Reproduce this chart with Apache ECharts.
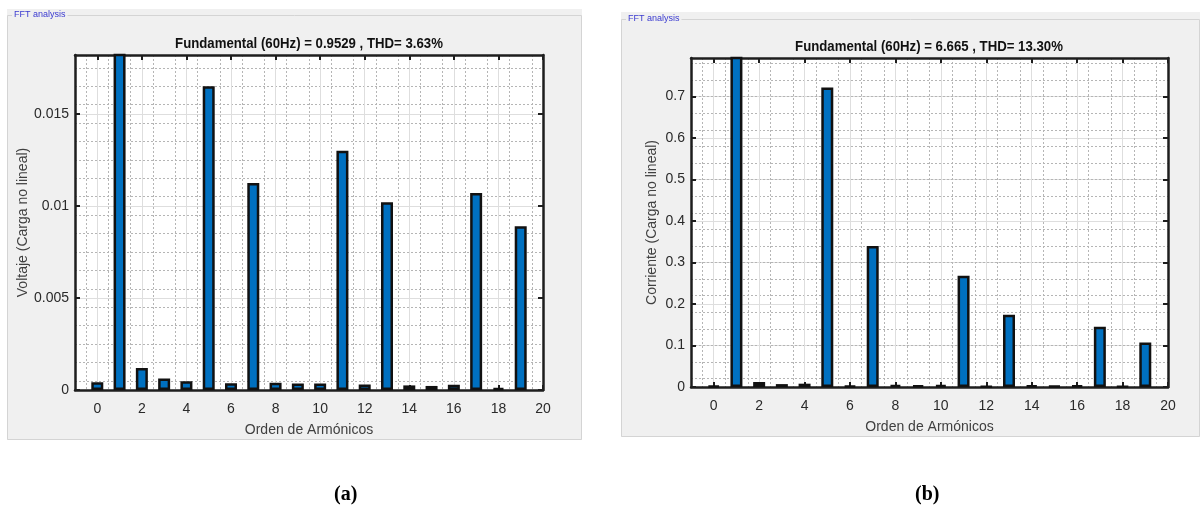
<!DOCTYPE html>
<html>
<head>
<meta charset="utf-8">
<script src="https://cdn.jsdelivr.net/npm/echarts@6/dist/echarts.min.js"></script>
<style>
html,body{margin:0;padding:0;background:#fff;}
#c{width:1202px;height:514px;}
</style>
</head>
<body>
<div id="c"></div>
<script>
// ---- data ----
const harmonics = [0,1,2,3,4,5,6,7,8,9,10,11,12,13,14,15,16,17,18,19];
const voltage = [0.00042,0.9529,0.0012,0.00063,0.00047,0.0165,0.00036,0.01125,0.0004,0.00035,0.00035,0.0130,0.0003,0.0102,0.00025,0.00022,0.00028,0.0107,0.0001,0.0089];
const current = [0.003,6.665,0.012,0.007,0.008,0.722,0.003,0.34,0.005,0.004,0.005,0.268,0.001,0.174,0.004,0.002,0.004,0.145,0.001,0.107];
const xTicks = [0,2,4,6,8,10,12,14,16,18,20];
const yTicksA = [0,0.005,0.01,0.015];
const yTicksB = [0,0.1,0.2,0.3,0.4,0.5,0.6,0.7];
const titleA = 'Fundamental (60Hz) = 0.9529 , THD= 3.63%';
const titleB = 'Fundamental (60Hz) = 6.665 , THD= 13.30%';
const yNameA = 'Voltaje (Carga no lineal)';
const yNameB = 'Corriente (Carga no lineal)';
const xName = 'Orden de Armónicos';

const chart = echarts.init(document.getElementById('c'));
const FONT = 'Liberation Sans, Arial, sans-serif';
const AX = '#1e1e1e';
const fmt = v => String(+(+v).toFixed(4));

function xAxes(gi){
  return [{
    type:'value', gridIndex:gi, position:'bottom', min:-1, max:20, interval:1,
    axisLine:{show:true,onZero:false,lineStyle:{color:AX,width:2.5}},
    axisTick:{show:true,inside:true,length:5,customValues:xTicks,lineStyle:{color:AX,width:2}},
    axisLabel:{customValues:xTicks,color:'#2a2a2a',fontSize:14,fontFamily:FONT,margin:12,formatter:fmt},
    splitLine:{show:true,lineStyle:{color:'#dedede',width:1}},
    minorTick:{show:false,splitNumber:2},
    minorSplitLine:{show:true,lineStyle:{color:'#b5b5b5',width:1,type:[2,2]}},
    name:xName,nameLocation:'middle',nameGap:33,
    nameTextStyle:{color:'#404040',fontSize:14,fontFamily:FONT}
  },{
    type:'value', gridIndex:gi, position:'top', min:-1, max:20, interval:1,
    axisLine:{show:true,onZero:false,lineStyle:{color:AX,width:2.5}},
    axisTick:{show:true,inside:true,length:5,customValues:xTicks,lineStyle:{color:AX,width:2}},
    axisLabel:{show:false}, splitLine:{show:false}
  }];
}
function yAxes(gi,max,interval,ticks,name,gap){
  return [{
    type:'value', gridIndex:gi, position:'left', min:0, max:max, interval:interval,
    axisLine:{show:true,onZero:false,lineStyle:{color:AX,width:2.5}},
    axisTick:{show:true,inside:true,length:5,customValues:ticks,lineStyle:{color:AX,width:2}},
    axisLabel:{customValues:ticks,color:'#2a2a2a',fontSize:14,fontFamily:FONT,margin:6,formatter:fmt},
    splitLine:{show:true,lineStyle:{color:'#dedede',width:1}},
    minorTick:{show:false,splitNumber:2},
    minorSplitLine:{show:true,lineStyle:{color:'#b5b5b5',width:1,type:[2,2]}},
    name:name,nameLocation:'middle',nameGap:gap,nameRotate:90,
    nameTextStyle:{color:'#404040',fontSize:14,fontFamily:FONT}
  },{
    type:'value', gridIndex:gi, position:'right', min:0, max:max, interval:interval,
    axisLine:{show:true,onZero:false,lineStyle:{color:AX,width:2.5}},
    axisTick:{show:true,inside:true,length:5,customValues:ticks,lineStyle:{color:AX,width:2}},
    axisLabel:{show:false}, splitLine:{show:false}
  }];
}

const titleFont = 'bold 15px "Liberation Sans", Arial, sans-serif';
chart.setOption({
  animation:false,
  backgroundColor:'#ffffff',
  graphic:[
    {type:'rect',z:-10,shape:{x:7,y:9,width:575,height:431},style:{fill:'#f0f0f0'}},
    {type:'rect',z:-9,shape:{x:7.5,y:15.5,width:574,height:424},style:{fill:'none',stroke:'#d4d4d4',lineWidth:1}},
    {type:'text',z:-8,left:12,top:10,style:{text:'FFT analysis',fill:'#3a3ad0',font:'9px "Liberation Sans Narrow", Arial, sans-serif',backgroundColor:'#f0f0f0',padding:[0,2]}},
    {type:'rect',z:-10,shape:{x:621,y:12,width:579,height:425},style:{fill:'#f0f0f0'}},
    {type:'rect',z:-9,shape:{x:621.5,y:19.5,width:578,height:417},style:{fill:'none',stroke:'#d4d4d4',lineWidth:1}},
    {type:'text',z:-8,left:626,top:14,style:{text:'FFT analysis',fill:'#3a3ad0',font:'9px "Liberation Sans Narrow", Arial, sans-serif',backgroundColor:'#f0f0f0',padding:[0,2]}},
    {type:'rect',z:-9,shape:{x:75,y:55,width:468,height:335},style:{fill:'#ffffff'}},
    {type:'rect',z:-9,shape:{x:691,y:58,width:477,height:329},style:{fill:'#ffffff'}},
    {type:'text',x:309,y:44,scaleX:0.88,style:{text:titleA,fill:'#111',font:titleFont,textAlign:'center',textVerticalAlign:'middle'}},
    {type:'text',x:929,y:47,scaleX:0.88,style:{text:titleB,fill:'#111',font:titleFont,textAlign:'center',textVerticalAlign:'middle'}},
    {type:'text',left:334,top:485,style:{text:'(a)',fill:'#000',font:'bold 20px "Liberation Serif", "Times New Roman", serif'}},
    {type:'text',left:915,top:485,style:{text:'(b)',fill:'#000',font:'bold 20px "Liberation Serif", "Times New Roman", serif'}}
  ],
  grid:[
    {left:75,top:55,width:468,height:335},
    {left:691,top:58,width:477,height:329}
  ],
  xAxis:[...xAxes(0),...xAxes(1)],
  yAxis:[...yAxes(0,0.0182,0.001,yTicksA,yNameA,44),...yAxes(1,0.793,0.04,yTicksB,yNameB,32)],
  series:[
    {type:'bar',xAxisIndex:0,yAxisIndex:0,barWidth:12,clip:true,
     data:harmonics.map((h,i)=>[h,voltage[i]]),
     itemStyle:{color:'#0070C0',borderColor:'#111',borderWidth:2.5}},
    {type:'bar',xAxisIndex:2,yAxisIndex:2,barWidth:12,clip:true,
     data:harmonics.map((h,i)=>[h,current[i]]),
     itemStyle:{color:'#0070C0',borderColor:'#111',borderWidth:2.5}}
  ]
});
</script>
</body>
</html>
